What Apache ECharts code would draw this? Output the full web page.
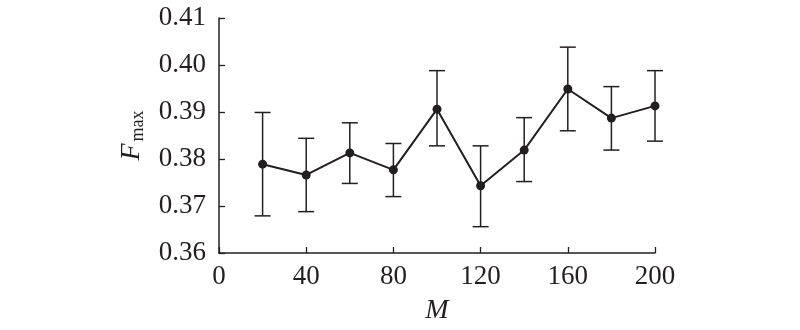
<!DOCTYPE html>
<html>
<head>
<meta charset="utf-8">
<script src="https://cdn.jsdelivr.net/npm/echarts@6/dist/echarts.min.js"></script>
<style>
  html, body { margin: 0; padding: 0; background: #fff; }
  #chart { width: 800px; height: 330px; }
</style>
</head>
<body>
<div id="chart"></div>
<script>
// Number of samples M and the measured F_max (mean with upper/lower bounds)
const mValues = [20, 40, 60, 80, 100, 120, 140, 160, 180, 200];
const fMean  = [0.3789, 0.3766, 0.3813, 0.3777, 0.3906, 0.3743, 0.3819, 0.3949, 0.3887, 0.3913];
const fUpper = [0.3899, 0.3844, 0.3877, 0.3833, 0.3988, 0.3828, 0.3888, 0.4038, 0.3954, 0.3988];
const fLower = [0.3679, 0.3688, 0.3748, 0.3720, 0.3828, 0.3656, 0.3752, 0.3860, 0.3819, 0.3838];

const xTicks = [0, 40, 80, 120, 160, 200];
const yTicks = [0.36, 0.37, 0.38, 0.39, 0.40, 0.41];

const ink = '#231f20';
const serif = '"Liberation Serif", "Times New Roman", serif';

const meanData = mValues.map((m, i) => [m, fMean[i]]);
const barData = mValues.map((m, i) => [m, fLower[i], fUpper[i]]);

const chart = echarts.init(document.getElementById('chart'), null, { renderer: 'canvas' });

chart.setOption({
  animation: false,
  backgroundColor: '#fff',
  grid: { left: 219, right: 145, top: 18, bottom: 77, containLabel: false },
  xAxis: {
    type: 'value',
    min: xTicks[0],
    max: xTicks[xTicks.length - 1],
    interval: 40,
    name: 'M',
    nameLocation: 'middle',
    nameGap: 44,
    nameTextStyle: { fontFamily: serif, fontStyle: 'italic', fontSize: 28, color: ink },
    axisLine: { show: true, lineStyle: { color: ink, width: 1.5 } },
    axisTick: { show: true, inside: true, length: 6, lineStyle: { color: ink, width: 1.3 } },
    axisLabel: { margin: 10, fontFamily: serif, fontSize: 27, color: ink },
    splitLine: { show: false }
  },
  yAxis: {
    type: 'value',
    min: yTicks[0],
    max: yTicks[yTicks.length - 1],
    interval: 0.01,
    name: '{f|F}{s|max}',
    nameLocation: 'middle',
    nameRotate: 90,
    nameGap: 72,
    nameTextStyle: {
      rich: {
        f: { fontFamily: serif, fontStyle: 'italic', fontSize: 28, color: ink, lineHeight: 30 },
        s: { fontFamily: serif, fontSize: 18, color: ink, lineHeight: 30, verticalAlign: 'bottom', padding: [12, 0, 0, 2] }
      }
    },
    axisLine: { show: true, lineStyle: { color: ink, width: 1.5 } },
    axisTick: { show: true, inside: true, length: 6, lineStyle: { color: ink, width: 1.3 } },
    axisLabel: {
      margin: 13, fontFamily: serif, fontSize: 27, color: ink,
      formatter: v => v.toFixed(2)
    },
    splitLine: { show: false }
  },
  series: [
    {
      // vertical error bars with horizontal caps
      type: 'custom',
      data: barData,
      encode: { x: 0, y: [1, 2] },
      z: 2,
      renderItem: function (params, api) {
        const x = api.value(0);
        const lo = api.coord([x, api.value(1)]);
        const hi = api.coord([x, api.value(2)]);
        const half = 8;
        const style = { stroke: ink, lineWidth: 1.5, fill: null };
        return {
          type: 'group',
          children: [
            { type: 'line', shape: { x1: lo[0], y1: lo[1], x2: hi[0], y2: hi[1] }, style: style },
            { type: 'line', shape: { x1: hi[0] - half, y1: hi[1], x2: hi[0] + half, y2: hi[1] }, style: style },
            { type: 'line', shape: { x1: lo[0] - half, y1: lo[1], x2: lo[0] + half, y2: lo[1] }, style: style }
          ]
        };
      }
    },
    {
      type: 'line',
      data: meanData,
      z: 3,
      symbol: 'circle',
      symbolSize: 9,
      itemStyle: { color: ink },
      lineStyle: { color: ink, width: 2 }
    }
  ]
});
</script>
</body>
</html>
